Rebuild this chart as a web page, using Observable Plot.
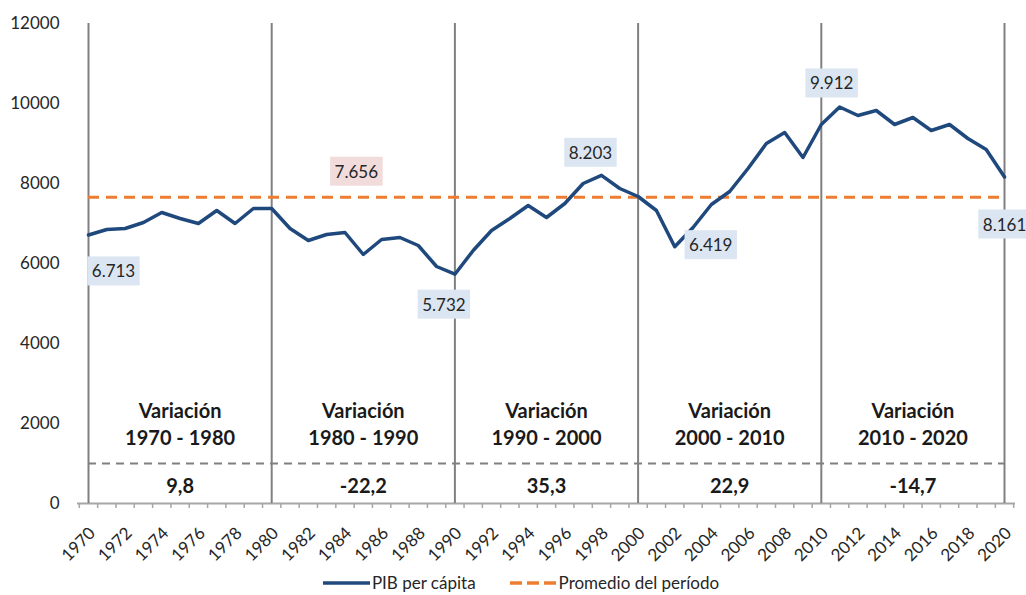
<!DOCTYPE html>
<html>
<head>
<meta charset="utf-8">
<script src="https://cdn.jsdelivr.net/npm/d3@7"></script>
<script src="https://cdn.jsdelivr.net/npm/@observablehq/plot@0.6"></script>
<style>
  html, body { margin: 0; padding: 0; background: #ffffff; }
  body { width: 1026px; font-family: Lato, "Open Sans", sans-serif; color: #262626; }
  #chart svg { display: block; }
  #legend { display: flex; justify-content: center; align-items: center; height: 28px; margin-top: 4px; padding-left: 16px; font-size: 17px; line-height: 20px; }
  #legend .item { display: flex; align-items: center; margin: 0 17px; }
  #legend svg { margin-right: 1px; }
</style>
</head>
<body>
<div id="chart"></div>
<div id="legend"></div>
<script>
// ---- data ----
const years = [1970,1971,1972,1973,1974,1975,1976,1977,1978,1979,
               1980,1981,1982,1983,1984,1985,1986,1987,1988,1989,
               1990,1991,1992,1993,1994,1995,1996,1997,1998,1999,
               2000,2001,2002,2003,2004,2005,2006,2007,2008,2009,
               2010,2011,2012,2013,2014,2015,2016,2017,2018,2019,2020];
const pib = [6713,6850,6875,7025,7275,7125,7000,7325,7000,7375,
             7375,6875,6575,6725,6775,6225,6600,6650,6450,5925,
             5732,6325,6825,7125,7450,7150,7500,8000,8203,7875,
             7675,7325,6419,6900,7475,7800,8375,9000,9275,8650,
             9475,9912,9700,9825,9475,9650,9325,9475,9125,8850,8161];
const promedio = 7656;
const decades = [1970, 1980, 1990, 2000, 2010, 2020];
const periodLabels = ["1970 - 1980", "1980 - 1990", "1990 - 2000", "2000 - 2010", "2010 - 2020"];
const variaciones = ["9,8", "-22,2", "35,3", "22,9", "-14,7"];
const yTicks = [0, 2000, 4000, 6000, 8000, 10000, 12000];
const xTickLabels = [1970,1972,1974,1976,1978,1980,1982,1984,1986,1988,1990,1992,1994,1996,1998,
                     2000,2002,2004,2006,2008,2010,2012,2014,2016,2018,2020];
const annotYears = [1970, 1990, 1998, 2002, 2011, 2020];
const annotTexts = ["6.713", "5.732", "8.203", "6.419", "9.912", "8.161"];
const promedioLabel = "7.656";
const promedioLabelYear = 1985;
const seriesNames = ["PIB per cápita", "Promedio del período"];

// ---- styling / layout (not data) ----
const NAVY = "#1f497d", ORANGE = "#ed7d31", GRAY = "#808080", AXIS = "#a6a6a6";
const annotOffsets = [[25, 37], [-11, 31], [-11, -22], [36, -1], [-8, -23], [0, 48]]; // px
const promedioOffset = [-7, -25];

const series = years.map((y, i) => ({year: y, pib: pib[i]}));
const periods = periodLabels.map((p, i) => ({
  mid: (decades[i] + decades[i + 1]) / 2,
  title: "Variación\n" + p,
  value: variaciones[i]
}));
const annots = annotYears.map((y, i) => ({year: y, value: pib[years.indexOf(y)], text: annotTexts[i]}));

const marks = [
  Plot.ruleY([0], {stroke: AXIS, strokeWidth: 2}),
  Plot.axisX({ticks: d3.range(years[0] - 0.5, years[years.length - 1] + 1, 1), tickSize: 5, tickFormat: () => "", stroke: AXIS, strokeWidth: 1.5}),
  Plot.axisX({ticks: xTickLabels, tickSize: 0, tickPadding: 19, tickRotate: -45, tickFormat: d => String(d), fontSize: 17, label: null, dx: 4, dy: 8}),
  Plot.axisY({ticks: yTicks, tickSize: 0, tickPadding: 18, tickFormat: d => String(d), fontSize: 17, label: null}),
  Plot.ruleX(decades, {y1: yTicks[0], y2: yTicks[yTicks.length - 1], stroke: GRAY, strokeWidth: 2}),
  Plot.ruleY([1000], {x1: decades[0], x2: decades[decades.length - 1], stroke: GRAY, strokeWidth: 2, strokeDasharray: "8,6"}),
  Plot.ruleY([promedio], {x1: years[0], x2: years[years.length - 1], stroke: ORANGE, strokeWidth: 3, strokeDasharray: "11,7"}),
  Plot.line(series, {x: "year", y: "pib", stroke: NAVY, strokeWidth: 3.5, strokeLinejoin: "round"}),
  Plot.text(periods, {x: "mid", text: "title", frameAnchor: "bottom", dy: -59, fontSize: 20, fontWeight: "bold", lineHeight: 1.35, fill: "#1a1a1a"}),
  Plot.text(periods, {x: "mid", text: "value", frameAnchor: "bottom", dy: -11, fontSize: 20, fontWeight: "bold", fill: "#1a1a1a"}),
  ...annots.map((a, i) => Plot.text([a], {x: "year", y: "value", text: "text", dx: annotOffsets[i][0], dy: annotOffsets[i][1], fontSize: 17, fill: "#262626"})),
  Plot.text([{year: promedioLabelYear, value: promedio, text: promedioLabel}], {x: "year", y: "value", text: "text", dx: promedioOffset[0], dy: promedioOffset[1], fontSize: 17, fill: "#262626"})
];

const chart = Plot.plot({
  width: 1026,
  height: 565,
  marginLeft: 77,
  marginRight: 11,
  marginTop: 23,
  marginBottom: 62,
  x: {domain: [years[0] - 0.6, years[years.length - 1] + 0.6]},
  y: {domain: [yTicks[0], yTicks[yTicks.length - 1]]},
  style: {fontFamily: "Lato, 'Open Sans', sans-serif", color: "#262626", background: "#ffffff", overflow: "visible"},
  marks
});
document.getElementById("chart").appendChild(chart);

// background boxes behind the value labels
const boxColors = {};
annotTexts.forEach(t => boxColors[t] = "#dce6f2");
boxColors[promedioLabel] = "#f2dcdb";
chart.querySelectorAll("g[aria-label='text'] text").forEach(t => {
  const s = t.textContent;
  if (boxColors[s]) {
    const bb = t.getBBox();
    const r = document.createElementNS("http://www.w3.org/2000/svg", "rect");
    r.setAttribute("x", bb.x - 4.5);
    r.setAttribute("y", bb.y - 4);
    r.setAttribute("width", bb.width + 9);
    r.setAttribute("height", bb.height + 8);
    r.setAttribute("fill", boxColors[s]);
    if (t.getAttribute("transform")) r.setAttribute("transform", t.getAttribute("transform"));
    t.parentNode.insertBefore(r, t);
  }
});

// legend
const legend = document.getElementById("legend");
const legendItems = [
  {name: seriesNames[0], color: NAVY, dash: null},
  {name: seriesNames[1], color: ORANGE, dash: "12,5"}
];
legendItems.forEach(it => {
  const div = document.createElement("div");
  div.className = "item";
  div.innerHTML = `<svg width="48" height="10"><line x1="0" y1="5" x2="47" y2="5" stroke="${it.color}" stroke-width="3.5" ${it.dash ? `stroke-dasharray="${it.dash}"` : ""}/></svg><span>${it.name}</span>`;
  legend.appendChild(div);
});
</script>
</body>
</html>
